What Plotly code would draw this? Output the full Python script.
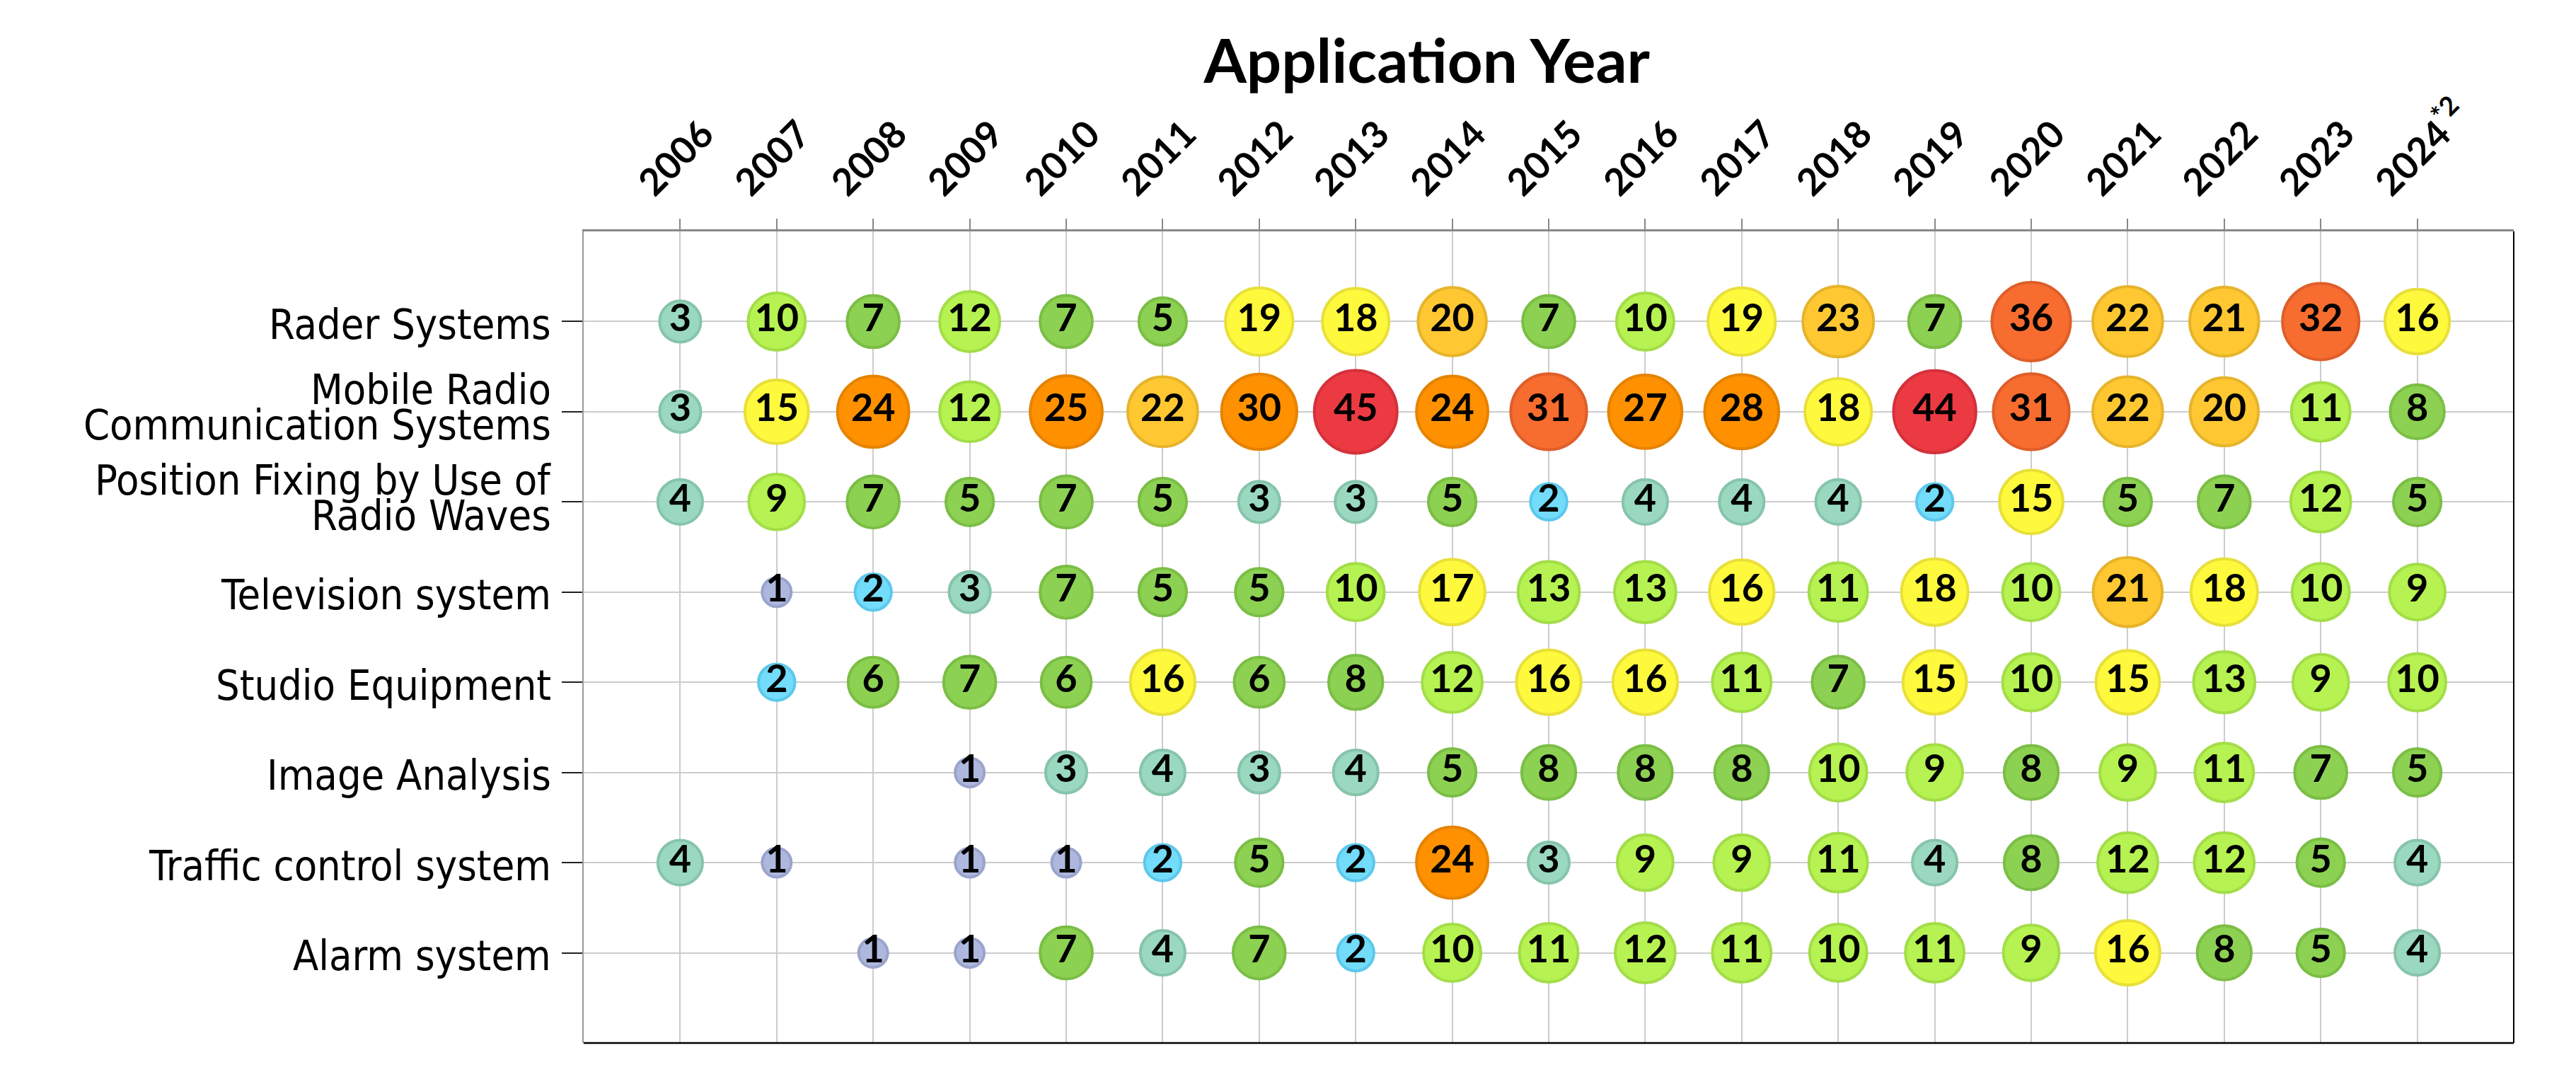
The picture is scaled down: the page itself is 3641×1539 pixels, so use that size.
import plotly.graph_objects as go

years = list(range(2006, 2025))
year_labels = [str(y) for y in years[:-1]] + ["2024<sup>*2</sup>"]

categories = [
    "Rader Systems",
    "Mobile Radio\nCommunication Systems",
    "Position Fixing by Use of\nRadio Waves",
    "Television system",
    "Studio Equipment",
    "Image Analysis",
    "Traffic control system",
    "Alarm system",
]

rader = [3, 10, 7, 12, 7, 5, 19, 18, 20, 7, 10, 19, 23, 7, 36, 22, 21, 32, 16]
mobile = [3, 15, 24, 12, 25, 22, 30, 45, 24, 31, 27, 28, 18, 44, 31, 22, 20, 11, 8]
position = [4, 9, 7, 5, 7, 5, 3, 3, 5, 2, 4, 4, 4, 2, 15, 5, 7, 12, 5]
television = [None, 1, 2, 3, 7, 5, 5, 10, 17, 13, 13, 16, 11, 18, 10, 21, 18, 10, 9]
studio = [None, 2, 6, 7, 6, 16, 6, 8, 12, 16, 16, 11, 7, 15, 10, 15, 13, 9, 10]
image = [None, None, None, 1, 3, 4, 3, 4, 5, 8, 8, 8, 10, 9, 8, 9, 11, 7, 5]
traffic = [4, 1, None, 1, 1, 2, 5, 2, 24, 3, 9, 9, 11, 4, 8, 12, 12, 5, 4]
alarm = [None, None, 1, 1, 7, 4, 7, 2, 10, 11, 12, 11, 10, 11, 9, 16, 8, 5, 4]

rows = [rader, mobile, position, television, studio, image, traffic, alarm]

# (upper bound of count, fill, outline)
COLOR_BINS = [
    (1, "#AEB8DF", "#9AA4CC"),
    (2, "#72DCFA", "#5CC8EC"),
    (4, "#9AD9BF", "#86C4AB"),
    (8, "#8DD153", "#7BBE45"),
    (14, "#B6F251", "#A3DD48"),
    (19, "#FFF93D", "#E8E03A"),
    (23, "#FFC832", "#E6B42C"),
    (30, "#FF9100", "#E68300"),
    (36, "#F76C2F", "#DF5E2A"),
    (999, "#EC3A43", "#D4313B"),
]

LABEL_FONT = "DejaVu Sans Condensed, DejaVu Sans, sans-serif"
BOLD_FONT = "Lato, Liberation Sans, sans-serif"
OUTLINE = 4


def bubble_colors(value):
    for upper, fill, edge in COLOR_BINS:
        if value <= upper:
            return fill, edge
    return COLOR_BINS[-1][1], COLOR_BINS[-1][2]


def bubble_size(value):
    # outer diameter grows slowly with the count
    return 83.5 * value ** 0.17 - 38.5 - OUTLINE


fig = go.Figure()

for idx, values in enumerate(rows):
    xs, vals = [], []
    for year, v in zip(years, values):
        if v is not None:
            xs.append(year)
            vals.append(v)
    fills = [bubble_colors(v)[0] for v in vals]
    edges = [bubble_colors(v)[1] for v in vals]
    fig.add_trace(
        go.Scatter(
            x=xs,
            y=[idx] * len(xs),
            mode="markers+text",
            text=[str(v) for v in vals],
            textposition="middle center",
            textfont=dict(family=BOLD_FONT, size=54, color="black", weight="bold"),
            marker=dict(
                size=[bubble_size(v) for v in vals],
                color=fills,
                line=dict(color=edges, width=OUTLINE),
                opacity=1,
            ),
            hoverinfo="skip",
            cliponaxis=False,
        )
    )

# y labels as annotations so that the two-line labels stay tight
for idx, cat in enumerate(categories):
    lines = cat.split("\n")
    n = len(lines)
    for j, line in enumerate(lines):
        fig.add_annotation(
            text=line,
            x=0,
            xref="paper",
            xanchor="right",
            xshift=-44,
            y=idx,
            yref="y",
            yanchor="middle",
            yshift=((n - 1) / 2 - j) * 50 + (6 if n > 1 else -4),
            showarrow=False,
            font=dict(family=LABEL_FONT, size=59, color="black"),
        )

fig.update_xaxes(
    side="top",
    range=[2005, 2025],
    tickvals=years,
    ticktext=year_labels,
    tickangle=-45,
    ticklabelshift=-55,
    tickfont=dict(family=BOLD_FONT, size=53, color="black", weight="bold"),
    showgrid=True,
    gridcolor="#CCCCCC",
    gridwidth=2,
    ticks="outside",
    ticklen=15,
    tickwidth=2,
    tickcolor="#888888",
    showline=True,
    linecolor="#888888",
    linewidth=3,
    zeroline=False,
)

fig.update_yaxes(
    range=[8, -1],
    tickvals=list(range(len(categories))),
    showticklabels=False,
    showgrid=True,
    gridcolor="#CCCCCC",
    gridwidth=2,
    ticks="outside",
    ticklen=29,
    tickwidth=2,
    tickcolor="#222222",
    showline=True,
    linecolor="#999999",
    linewidth=1.5,
    zeroline=False,
)

# darker bottom and right edges of the frame
fig.add_shape(type="line", xref="paper", yref="paper", x0=0, x1=1, y0=0, y1=0,
              line=dict(color="black", width=2.5))
fig.add_shape(type="line", xref="paper", yref="paper", x0=1, x1=1, y0=0, y1=1,
              line=dict(color="black", width=2))

fig.update_layout(
    width=3641,
    height=1539,
    margin=dict(l=817, r=96, t=319, b=73),
    plot_bgcolor="white",
    paper_bgcolor="white",
    showlegend=False,
    title=dict(
        text="Application Year",
        x=0.5517,
        xanchor="center",
        y=0.949,
        yanchor="middle",
        font=dict(family=BOLD_FONT, size=87, color="black", weight="bold"),
    ),
)

fig.write_html("out.html")
